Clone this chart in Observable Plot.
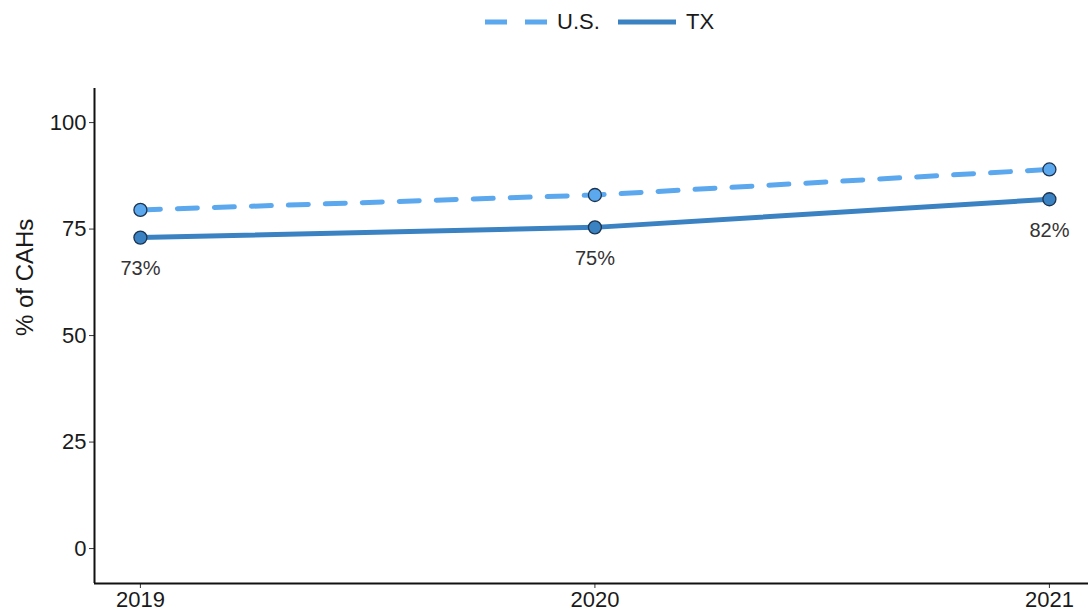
<!DOCTYPE html>
<html>
<head>
<meta charset="utf-8">
<script src="https://cdn.jsdelivr.net/npm/d3@7"></script>
<script src="https://cdn.jsdelivr.net/npm/@observablehq/plot@0.6"></script>
<style>
  html, body { margin: 0; padding: 0; background: #fff; }
  body { width: 1088px; height: 616px; overflow: hidden; font-family: "Liberation Sans", Arial, sans-serif; }
  #legend { height: 40px; position: relative; }
  #legend .item { position: absolute; top: 2px; height: 40px; display: flex; align-items: center; font-size: 22px; color: #1a1a1a; }
  #chart svg { display: block; }
</style>
</head>
<body>
<div id="legend"></div>
<div id="chart"></div>
<script>
const years = [2019, 2020, 2021];
const usValues = [79.5, 83, 89];
const txValues = [73, 75.4, 82];
const txLabels = ["73%", "75%", "82%"];
const series = ["U.S.", "TX"];
const colors = { "U.S.": "#5ba8ee", "TX": "#3a82c2" };
const yTicks = [0, 25, 50, 75, 100];

const us = years.map((y, i) => ({ year: y, value: usValues[i], series: "U.S." }));
const tx = years.map((y, i) => ({ year: y, value: txValues[i], series: "TX", label: txLabels[i] }));

// Legend
const legend = document.getElementById("legend");
legend.innerHTML = `
  <svg style="position:absolute;left:483px;top:15px" width="68" height="14">
    <line x1="2" y1="7" x2="66" y2="7" stroke="${colors["U.S."]}" stroke-width="5" stroke-dasharray="22,18"/>
  </svg>
  <div class="item" style="left:557px;">U.S.</div>
  <svg style="position:absolute;left:617px;top:15px" width="60" height="14">
    <line x1="1" y1="7" x2="59" y2="7" stroke="${colors["TX"]}" stroke-width="5"/>
  </svg>
  <div class="item" style="left:686px;">TX</div>
`;

const yMin = -8.2, yMax = 108;
const xMin = 2018.899, xMax = 2021.086;

const plot = Plot.plot({
  width: 1088,
  height: 576,
  marginLeft: 94,
  marginRight: 0,
  marginTop: 48,
  marginBottom: 33,
  style: { fontFamily: "Liberation Sans, Arial, sans-serif", fontSize: "22px", color: "#1a1a1a", background: "#fff" },
  x: { domain: [xMin, xMax], ticks: years, tickFormat: "d", tickSize: 5, label: null },
  y: { domain: [yMin, yMax], ticks: yTicks, tickSize: 5, label: null },
  marks: [
    Plot.axisX({ ticks: years, tickFormat: "d", tickSize: 5, fontSize: 22, tickPadding: 3, stroke: "#333", fill: "#1a1a1a" }),
    Plot.axisY({ ticks: yTicks, tickSize: 5, fontSize: 22, tickPadding: 3, stroke: "#333", fill: "#1a1a1a" }),
    Plot.ruleY([yMin], { stroke: "#111", strokeWidth: 2 }),
    Plot.ruleX([xMin], { stroke: "#111", strokeWidth: 2 }),
    Plot.text(["% of CAHs"], { frameAnchor: "left", dx: -69, dy: 0, rotate: -90, fontSize: 24, fill: "#1a1a1a" }),
    Plot.line(us, { x: "year", y: "value", stroke: colors["U.S."], strokeWidth: 5, strokeDasharray: "20,17" }),
    Plot.line(tx, { x: "year", y: "value", stroke: colors["TX"], strokeWidth: 5 }),
    Plot.dot(us, { x: "year", y: "value", r: 6.5, fill: colors["U.S."], stroke: "#1c3450", strokeWidth: 1.3 }),
    Plot.dot(tx, { x: "year", y: "value", r: 6.5, fill: colors["TX"], stroke: "#1c3450", strokeWidth: 1.3 }),
    Plot.text(tx, { x: "year", y: "value", text: "label", dy: 31, fontSize: 20, fill: "#333" })
  ]
});
document.getElementById("chart").appendChild(plot);
</script>
</body>
</html>
